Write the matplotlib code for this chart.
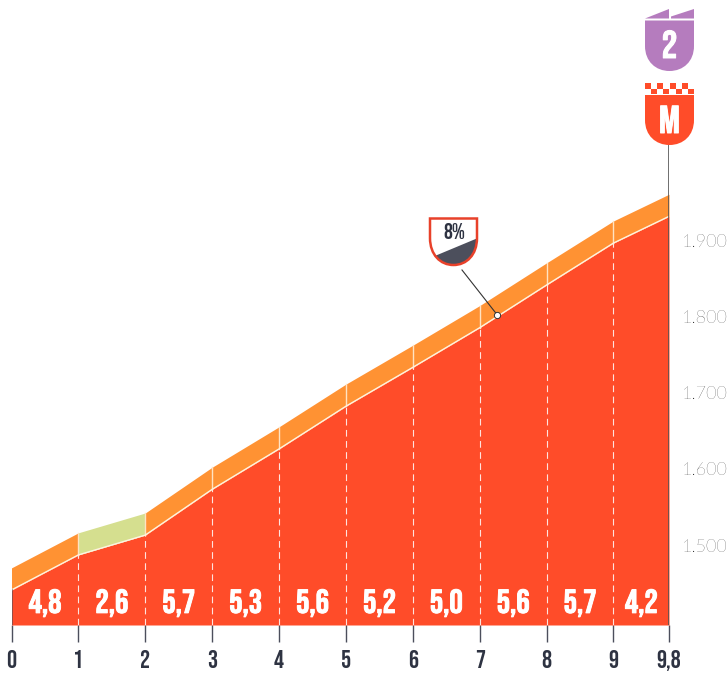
import matplotlib
matplotlib.use("Agg")
import matplotlib.pyplot as plt
import matplotlib.patheffects as pe
from matplotlib.path import Path
from matplotlib.patches import PathPatch, Rectangle, Polygon

km = [0, 1, 2, 3, 4, 5, 6, 7, 8, 9, 9.83]
km_labels = ["0", "1", "2", "3", "4", "5", "6", "7", "8", "9", "9,8"]
elevation = [1441, 1487, 1513, 1573, 1626, 1682, 1733, 1785, 1841, 1896, 1931]
gradients = ["4,8", "2,6", "5,7", "5,3", "5,6", "5,2", "5,0", "5,6", "5,7", "4,2"]
elev_ticks = [1500, 1600, 1700, 1800, 1900]
elev_labels = ["1.500", "1.600", "1.700", "1.800", "1.900"]
band_height = 29
marker_km = 7.26
marker_elev = 1802
category = "2"
finish = "M"
max_grade = "8%"

RED = "#FF4C29"
ORANGE = "#FF9233"
GREEN = "#D5DF8F"
PURPLE = "#B57CBE"
DARK = "#2E3342"
SLATE = "#4C4F5C"
COND = ["Bebas Neue", "Oswald", "Roboto", "DejaVu Sans"]
BOLD = [pe.withStroke(linewidth=0.7, foreground="white")]

W, H = 728, 675
fig = plt.figure(figsize=(W / 100, H / 100), dpi=100, facecolor="white")

base_y = 625
top_y = 0
px_per_m = 0.7625
y0 = 1500 - (base_y - 545) / px_per_m
y1 = 1500 + (545 - top_y) / px_per_m
ax = fig.add_axes([11.5 / W, 1 - base_y / H, (669 - 11.5) / W, (base_y - top_y) / H])
ax.set_xlim(km[0], km[-1])
ax.set_ylim(y0, y1)
ax.patch.set_alpha(0)
for s in ax.spines.values():
    s.set_visible(False)

ax.fill_between(km, y0, elevation, color=RED, lw=0, zorder=2)
for i in range(len(km) - 1):
    colour = GREEN if i == 1 else ORANGE
    ax.fill_between(km[i:i + 2], elevation[i:i + 2],
                    [e + band_height for e in elevation[i:i + 2]],
                    color=colour, lw=0, zorder=2)
    ax.text((km[i] + km[i + 1]) / 2, y0 + 29, gradients[i], color="white",
            family=COND, fontsize=24, ha="center", va="center", zorder=5,
            path_effects=BOLD)

ax.plot(km, elevation, color="#FFF3E0", lw=1.0, zorder=4)
for x, e in zip(km[1:-1], elevation[1:-1]):
    ax.plot([x, x], [y0, e], color="white", lw=0.8, dashes=(6, 4), alpha=0.85, zorder=3)
    ax.plot([x, x], [e, e + band_height], color="#FFE3C2", lw=1.0, zorder=3)

ax.plot([0, 0], [y0, elevation[0]], color=SLATE, lw=1.2, alpha=0.7, zorder=4)
ax.plot([km[-1], km[-1]], [y0, y1 - 145 / px_per_m], color="#555", lw=1.2, zorder=4)

ax.set_xticks(km)
ax.set_xticklabels(km_labels, family=COND, fontsize=18, color=DARK)
ax.tick_params(axis="x", length=12, width=1.0, color=SLATE, pad=6)
ax.yaxis.tick_right()
ax.set_yticks(elev_ticks)
ax.set_yticklabels(elev_labels, family=["Lato", "DejaVu Sans"], weight="light", fontsize=13, color="#111")
ax.tick_params(axis="y", length=0, pad=9)

ov = fig.add_axes([0, 0, 1, 1])
ov.set_xlim(0, W)
ov.set_ylim(H, 0)
ov.axis("off")
ov.patch.set_alpha(0)


def shield_path(l, r, t, b, s):
    m = (l + r) / 2
    verts = [(l, t), (r, t), (r, s), (r, s + (b - s) * 0.62), (m + (r - l) * 0.28, b), (m, b),
             (m - (r - l) * 0.28, b), (l, s + (b - s) * 0.62), (l, s), (l, t)]
    codes = [Path.MOVETO, Path.LINETO, Path.LINETO, Path.CURVE4, Path.CURVE4, Path.CURVE4,
             Path.CURVE4, Path.CURVE4, Path.CURVE4, Path.CLOSEPOLY]
    return Path(verts, codes)


ov.add_patch(PathPatch(shield_path(645, 694, 20.5, 71, 46), fc=PURPLE, lw=0))
ov.add_patch(Polygon([(645, 18.5), (669, 9), (669, 18.5)], fc=PURPLE, lw=0))
ov.add_patch(Polygon([(671, 18.5), (671, 16.5), (694, 9), (694, 18.5)], fc=PURPLE, lw=0))
ov.text(669.5, 44, category, color="white", family=COND, fontsize=28, ha="center", va="center", path_effects=BOLD)

ov.add_patch(PathPatch(shield_path(645, 694, 95, 145, 120), fc=RED, lw=0))
for i in range(4):
    ov.add_patch(Rectangle((645 + i * 12.3, 83), 6, 5.5, fc=RED, lw=0))
    ov.add_patch(Rectangle((651 + i * 12.3, 88.6), 6, 5.5, fc=RED, lw=0))
ov.text(669.5, 119, finish, color="white", family=COND, fontsize=28, ha="center", va="center", path_effects=BOLD)

shield = shield_path(430, 477, 218.5, 265, 238)
ov.add_patch(PathPatch(shield, fc="white", lw=0, zorder=2))
wedge = Polygon([(430, 258), (478, 238), (478, 268), (430, 268)], fc=SLATE, lw=0, zorder=3)
ov.add_patch(wedge)
wedge.set_clip_path(PathPatch(shield, transform=ov.transData))
ov.add_patch(PathPatch(shield, fc="none", ec="#E8412A", lw=1.8, zorder=4))
ov.text(454, 231, max_grade, color=DARK, family=COND, fontsize=16, ha="center", va="center", zorder=5)

mx = 11.5 + marker_km * (669 - 11.5) / km[-1]
my = 545 - (marker_elev - 1500) * px_per_m
ov.plot([462, mx], [270, my], color="#333", lw=0.8, zorder=5)
ov.plot([mx], [my], marker="o", ms=4.5, mfc="white", mec="#333", mew=0.7, zorder=6)

fig.savefig("out.png", dpi=100, facecolor="white")
